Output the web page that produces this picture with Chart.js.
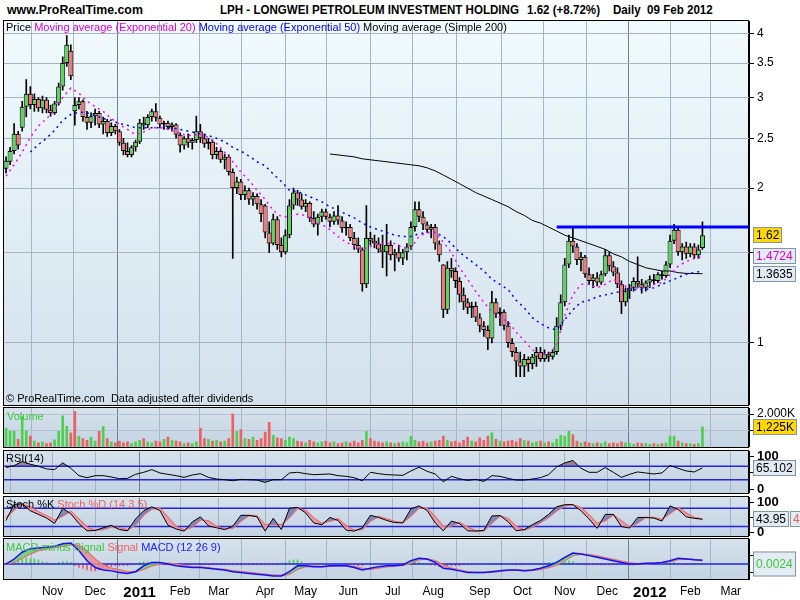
<!DOCTYPE html>
<html lang="en">
<head>
<meta charset="UTF-8">
<title>LPH - Longwei Petroleum Investment Holding</title>
<script src="https://cdn.jsdelivr.net/npm/chart.js@4.4.1/dist/chart.umd.min.js"></script>
<style>
  body { margin: 0; background: #fff; font-family: "Liberation Sans", Arial, sans-serif; }
  #page { position: relative; width: 800px; height: 600px; overflow: hidden; }
  .frame { position: absolute; left: 3px; width: 744px; border: 1px solid #000; }
  canvas { position: absolute; left: 0; }
  .txt { position: absolute; font-size: 11px; line-height: 12px; white-space: pre; z-index: 5; }
  .head { position: absolute; top: 2px; font-weight: bold; font-size: 13px; white-space: pre; transform-origin: left top; transform: scaleX(0.89); }
</style>
</head>
<body>
<div id="page">
  <div class="head" style="left:7px;transform:scaleX(0.95)">www.ProRealTime.com</div>
  <div class="head" style="left:220px">LPH - LONGWEI PETROLEUM INVESTMENT HOLDING</div>
  <div class="head" style="left:527px">1.62 (+8.72%)</div>
  <div class="head" style="left:613px">Daily  09 Feb 2012</div>

  <div class="txt" style="left:6px;top:21px">Price <span style="color:#e000e0">Moving average (Exponential 20)</span> <span style="color:#0000ff">Moving average (Exponential 50)</span> Moving average (Simple 200)</div>
  <div class="txt" style="left:6px;top:392px">© ProRealTime.com  Data adjusted after dividends</div>
  <div class="txt" style="left:7px;top:410px;color:#3cc83c">Volume</div>
  <div class="txt" style="left:6px;top:452px">RSI(14)</div>
  <div class="txt" style="left:6px;top:498px">Stoch %K <span style="color:#f06060">Stoch %D (14 3 5)</span></div>
  <div class="txt" style="left:6px;top:541px"><span style="color:#3cc83c">MACD minus Signal</span> <span style="color:#f06060">Signal</span> <span style="color:#2020ff">MACD (12 26 9)</span></div>
</div>

<script>
// ---- candles: one per 2 trading days, trading-day index i = -2 + 2k ----
const open = [
  2.18,2.25,2.36,2.55,2.62,2.88,3.05,2.9,2.98,2.86,
  2.97,2.84,2.8,2.92,3.15,3.5,3.7,2.82,2.9,2.95,
  2.75,2.68,2.76,2.8,2.66,2.7,2.56,2.64,2.58,2.45,
  2.36,2.32,2.4,2.46,2.68,2.65,2.75,2.82,2.74,2.66,
  2.68,2.63,2.66,2.54,2.42,2.5,2.45,2.48,2.58,2.5,
  2.44,2.46,2.32,2.36,2.27,2.3,2.15,2.0,2.06,1.94,
  1.98,1.9,1.93,1.86,1.85,1.64,1.56,1.74,1.55,1.5,
  1.62,1.85,1.96,1.9,1.84,1.87,1.75,1.7,1.76,1.8,
  1.76,1.72,1.77,1.73,1.67,1.68,1.6,1.55,1.52,1.3,
  1.6,1.58,1.56,1.52,1.5,1.55,1.48,1.5,1.46,1.5,
  1.54,1.68,1.82,1.76,1.7,1.66,1.68,1.56,1.42,1.16,
  1.4,1.38,1.32,1.24,1.2,1.17,1.18,1.12,1.08,1.06,
  1.02,1.2,1.14,1.15,1.08,1.0,0.96,0.92,0.9,0.93,
  0.91,0.94,0.96,0.93,0.95,0.94,0.96,1.08,1.2,1.42,
  1.58,1.54,1.45,1.47,1.36,1.32,1.34,1.31,1.36,1.48,
  1.41,1.37,1.3,1.2,1.26,1.28,1.32,1.3,1.28,1.31,
  1.33,1.32,1.36,1.35,1.42,1.58,1.66,1.5,1.54,1.49,
  1.54,1.48,1.53
];
const high = [
  2.3,2.4,2.67,2.58,2.95,3.25,3.15,3.05,3.0,3.02,
  3.0,2.9,2.95,3.2,3.6,3.96,3.8,3.0,3.0,2.97,
  2.82,2.8,2.85,2.82,2.75,2.72,2.68,2.66,2.6,2.5,
  2.45,2.42,2.48,2.72,2.75,2.78,2.85,2.92,2.76,2.7,
  2.7,2.68,2.67,2.56,2.52,2.55,2.5,2.76,2.66,2.55,
  2.5,2.48,2.4,2.38,2.33,2.32,2.18,2.1,2.08,2.02,
  2.0,1.96,1.95,1.9,1.86,1.72,1.78,1.76,1.6,1.66,
  1.9,2.0,1.98,1.95,1.9,1.88,1.8,1.78,1.82,1.82,
  1.78,1.8,1.85,1.76,1.72,1.7,1.64,1.6,1.53,1.85,
  1.64,1.62,1.6,1.62,1.7,1.58,1.52,1.55,1.52,1.56,
  1.72,1.88,1.88,1.8,1.72,1.7,1.7,1.58,1.42,1.44,
  1.46,1.4,1.34,1.28,1.22,1.2,1.2,1.14,1.1,1.08,
  1.26,1.22,1.17,1.16,1.1,1.02,0.98,0.96,0.95,0.94,
  0.95,0.98,0.98,0.97,0.96,0.97,1.12,1.24,1.46,1.62,
  1.68,1.56,1.5,1.48,1.4,1.36,1.37,1.38,1.52,1.5,
  1.44,1.4,1.32,1.28,1.3,1.34,1.47,1.33,1.32,1.35,
  1.36,1.37,1.38,1.44,1.62,1.7,1.68,1.56,1.57,1.56,
  1.56,1.55,1.72
];
const low = [
  2.14,2.22,2.33,2.38,2.58,2.75,2.85,2.82,2.82,2.8,
  2.8,2.76,2.78,2.9,3.1,3.45,3.25,2.65,2.85,2.7,
  2.6,2.62,2.65,2.62,2.55,2.52,2.53,2.55,2.42,2.32,
  2.3,2.3,2.36,2.44,2.6,2.62,2.7,2.7,2.62,2.6,
  2.6,2.58,2.5,2.35,2.38,2.4,2.38,2.45,2.45,2.4,
  2.38,2.28,2.28,2.24,2.18,2.12,1.46,1.95,1.9,1.9,
  1.86,1.85,1.82,1.72,1.6,1.5,1.55,1.52,1.47,1.49,
  1.6,1.82,1.85,1.82,1.8,1.72,1.68,1.62,1.72,1.74,
  1.68,1.7,1.7,1.64,1.62,1.58,1.52,1.5,1.26,1.28,
  1.55,1.53,1.5,1.4,1.35,1.45,1.38,1.44,1.42,1.45,
  1.52,1.65,1.72,1.66,1.64,1.6,1.52,1.44,1.12,1.14,
  1.34,1.28,1.2,1.16,1.14,1.12,1.1,1.05,1.03,0.97,
  1.0,1.12,1.08,1.06,0.98,0.94,0.86,0.86,0.86,0.88,
  0.89,0.9,0.92,0.92,0.92,0.93,0.95,1.06,1.18,1.4,
  1.5,1.42,1.38,1.34,1.3,1.28,1.29,1.3,1.35,1.38,
  1.35,1.28,1.14,1.18,1.22,1.26,1.28,1.25,1.26,1.28,
  1.3,1.31,1.33,1.34,1.4,1.56,1.48,1.45,1.46,1.47,
  1.46,1.46,1.52
];
const close = [
  2.26,2.36,2.55,2.42,2.88,3.05,2.9,2.98,2.86,2.97,
  2.84,2.8,2.92,3.15,3.5,3.8,3.3,2.9,2.95,2.75,
  2.68,2.76,2.8,2.66,2.7,2.56,2.64,2.58,2.45,2.36,
  2.32,2.4,2.46,2.68,2.65,2.75,2.82,2.74,2.66,2.68,
  2.63,2.66,2.54,2.42,2.5,2.45,2.48,2.58,2.5,2.44,
  2.46,2.32,2.36,2.27,2.3,2.15,2.0,2.06,1.94,1.98,
  1.9,1.93,1.86,1.78,1.64,1.56,1.74,1.55,1.5,1.62,
  1.85,1.96,1.9,1.84,1.87,1.75,1.7,1.76,1.8,1.76,
  1.72,1.77,1.73,1.67,1.68,1.6,1.55,1.52,1.3,1.6,
  1.58,1.56,1.52,1.5,1.55,1.48,1.5,1.46,1.5,1.54,
  1.68,1.82,1.76,1.7,1.66,1.68,1.56,1.48,1.16,1.4,
  1.38,1.32,1.24,1.2,1.17,1.18,1.12,1.08,1.06,1.02,
  1.2,1.14,1.15,1.08,1.0,0.96,0.92,0.9,0.93,0.91,
  0.94,0.96,0.93,0.95,0.94,0.96,1.08,1.2,1.42,1.58,
  1.54,1.45,1.47,1.36,1.32,1.34,1.31,1.36,1.48,1.41,
  1.37,1.3,1.2,1.26,1.28,1.32,1.3,1.28,1.31,1.33,
  1.32,1.36,1.35,1.42,1.58,1.66,1.5,1.54,1.49,1.54,
  1.48,1.52,1.62
];
const volumeK = [
  1150,950,950,450,1850,1000,650,350,250,300,
  200,250,420,950,1900,1250,850,2150,650,500,
  400,600,350,950,1250,500,300,250,350,250,
  300,200,300,400,500,300,250,350,300,450,
  600,400,350,300,200,250,200,300,1150,500,
  450,350,400,300,350,500,2000,950,1050,500,
  450,600,400,500,900,1500,700,550,500,400,
  600,500,350,300,250,400,300,250,300,350,
  250,300,200,250,300,250,350,250,400,950,
  500,350,300,250,300,250,200,250,300,250,
  650,400,300,350,250,300,350,400,650,400,
  300,350,250,400,600,350,300,550,400,650,
  850,450,350,300,350,400,300,500,400,350,
  250,300,350,250,300,250,450,700,650,950,
  750,350,250,300,250,200,250,200,300,200,
  250,200,300,250,200,150,250,200,200,150,
  200,150,200,250,650,650,350,250,200,200,
  150,200,1225
];
const macdHist = [
  0,0.03,0.05,0.07,0.08,0.07,0.06,0.06,0.05,0.03,
  0.02,0.01,0.01,0.02,0.03,0.03,0.02,-0.02,-0.04,-0.05,
  -0.07,-0.08,-0.08,-0.07,-0.06,-0.04,-0.03,-0.02,-0.02,-0.02,
  -0.02,-0.01,0,0.02,0.03,0.03,0.02,0.01,0,-0.01,
  -0.01,-0.01,-0.01,-0.01,0,-0.01,0,0,-0.01,-0.01,
  -0.01,-0.01,-0.01,-0.01,-0.01,-0.01,-0.01,-0.01,-0.01,-0.01,
  -0.01,-0.01,-0.01,-0.01,-0.01,-0.01,-0.01,-0.01,0,0.02,
  0.04,0.05,0.05,0.03,0.01,0,0,-0.01,0,0,
  0,0,0,0,-0.01,-0.01,-0.01,-0.02,-0.02,0,
  0.01,0.01,0.01,0,0,0,0,0.01,0.01,0.01,
  0.02,0.02,0.02,0.01,0,-0.01,-0.02,-0.03,-0.03,-0.03,
  -0.02,-0.02,-0.02,-0.01,-0.01,-0.01,0,0,0,0.01,
  0.01,0.01,0.01,0,0,0,-0.01,-0.01,0,0,
  0.01,0.01,0.01,0.01,0.02,0.02,0.03,0.04,0.05,0.04,
  0.03,0.01,0,-0.01,-0.01,-0.01,-0.01,-0.01,-0.01,-0.01,
  -0.01,-0.01,-0.01,-0.01,-0.01,-0.01,0,0,0,0,
  0.01,0.01,0.01,0.02,0.02,0.02,0.01,0,-0.01,0,
  0,0,0.0024
];

// ---- indicators: one sample per 4 trading days, i = -2 + 4m ----
const ema20 = [
  2.11,2.22,2.35,2.51,2.64,2.73,2.83,3.0,3.13,3.06,
  2.95,2.88,2.82,2.73,2.66,2.6,2.54,2.57,2.62,2.62,
  2.61,2.57,2.54,2.53,2.55,2.51,2.44,2.35,2.25,2.15,
  2.07,1.98,1.9,1.81,1.76,1.76,1.78,1.77,1.73,1.7,
  1.66,1.61,1.57,1.54,1.52,1.54,1.56,1.56,1.56,1.53,
  1.53,1.61,1.64,1.64,1.57,1.5,1.4,1.33,1.26,1.2,
  1.15,1.12,1.1,1.05,1.01,0.97,0.95,0.95,0.99,1.13,
  1.24,1.3,1.3,1.28,1.3,1.33,1.3,1.28,1.28,1.28,
  1.3,1.31,1.36,1.41,1.44,1.46,1.4724
];
const ema50 = [
  null,null,null,2.35,2.43,2.5,2.59,2.71,2.78,2.81,
  2.8,2.77,2.73,2.71,2.67,2.65,2.62,2.62,2.62,2.62,
  2.62,2.61,2.59,2.57,2.55,2.53,2.5,2.46,2.4,2.36,
  2.31,2.25,2.21,2.13,2.06,1.98,1.97,1.94,1.91,1.88,
  1.84,1.81,1.78,1.75,1.71,1.68,1.66,1.64,1.62,1.61,
  1.61,1.63,1.64,1.64,1.61,1.56,1.5,1.46,1.42,1.38,
  1.33,1.3,1.27,1.21,1.17,1.12,1.09,1.07,1.06,1.11,
  1.16,1.2,1.21,1.23,1.24,1.25,1.26,1.27,1.27,1.27,
  1.28,1.3,1.32,1.34,1.36,1.37,1.38
];
const sma200From = 40;   // first sample with a 200-day average
const sma200 = [
  2.33,2.32,2.31,2.3,2.28,2.27,2.26,2.25,2.24,2.23,
  2.22,2.21,2.19,2.16,2.12,2.08,2.04,2.0,1.96,1.93,
  1.9,1.87,1.84,1.8,1.77,1.73,1.71,1.68,1.65,1.62,
  1.6,1.58,1.56,1.54,1.52,1.49,1.47,1.44,1.42,1.4,
  1.39,1.38,1.38,1.37,1.365,1.364,1.3635
];
const rsi14 = [
  66,72,84,76,70,62,60,80,64,42,
  36,42,42,38,33,34,46,52,60,50,
  46,42,37,44,48,37,32,30,27,31,
  30,29,22,30,30,50,52,48,45,46,
  47,42,40,36,27,52,48,45,44,43,
  56,67,55,47,24,40,33,28,31,25,
  42,40,34,29,29,32,36,45,68,80,
  87,64,52,52,66,52,37,46,53,50,
  47,50,72,64,56,53,65.102
];
const stochK = [
  40,93,95,72,60,48,30,80,62,30,
  6,7,16,24,10,6,45,72,85,73,
  24,12,5,35,52,22,16,10,21,57,
  57,52,5,47,10,80,83,65,32,26,
  50,40,8,5,16,57,50,40,33,32,
  78,88,73,32,6,38,30,6,5,7,
  55,56,36,6,10,26,40,60,85,92,
  92,72,45,14,60,60,20,15,50,50,
  48,38,88,76,52,47,43.95
];
const stochD = [
  50,75,92,85,68,56,40,55,70,45,
  18,8,10,18,16,9,25,58,78,80,
  50,20,9,18,42,38,20,13,14,38,
  56,55,25,28,25,50,80,73,48,30,
  38,45,22,8,10,38,53,45,37,33,
  55,82,80,52,20,22,33,18,6,6,
  32,55,46,20,8,18,33,50,72,88,
  92,82,58,30,40,58,38,18,32,50,
  50,43,63,82,64,50,45.2
];
const macdLine = [
  0,0.06,0.14,0.18,0.19,0.2,0.21,0.24,0.25,0.16,
  0.04,-0.04,-0.07,-0.08,-0.1,-0.11,-0.09,-0.02,0.02,0.02,
  0,-0.02,-0.03,-0.04,-0.04,-0.05,-0.06,-0.07,-0.09,-0.1,
  -0.11,-0.12,-0.13,-0.14,-0.14,-0.09,-0.02,-0.02,-0.03,-0.03,
  -0.02,-0.02,-0.02,-0.04,-0.07,-0.05,-0.03,-0.02,-0.02,-0.01,
  0.04,0.07,0.06,0.02,-0.05,-0.06,-0.08,-0.1,-0.1,-0.1,
  -0.09,-0.08,-0.07,-0.07,-0.08,-0.07,-0.05,-0.02,0.02,0.08,
  0.13,0.12,0.1,0.08,0.06,0.04,0.02,0,0,0.01,
  0.01,0.02,0.04,0.07,0.06,0.05,0.045
];
const macdSignal = [
  0,0.02,0.07,0.12,0.16,0.18,0.2,0.21,0.23,0.22,
  0.15,0.06,-0.01,-0.05,-0.07,-0.09,-0.09,-0.06,-0.02,0,
  0.01,0,-0.02,-0.03,-0.035,-0.045,-0.055,-0.065,-0.08,-0.09,
  -0.1,-0.11,-0.12,-0.13,-0.135,-0.12,-0.06,-0.03,-0.025,-0.03,
  -0.025,-0.02,-0.02,-0.03,-0.05,-0.06,-0.045,-0.03,-0.02,-0.015,
  0.01,0.05,0.06,0.04,-0.01,-0.05,-0.07,-0.09,-0.1,-0.1,
  -0.095,-0.085,-0.075,-0.07,-0.075,-0.075,-0.06,-0.04,-0.01,0.04,
  0.1,0.12,0.11,0.095,0.075,0.055,0.035,0.015,0.005,0.005,
  0.01,0.015,0.03,0.055,0.06,0.055,0.043
];

// ---- axes ----
const monthStarts = [0,21,42,64,84,103,126,146,167,189,209,232,253,274,295,316,336,356];
const monthLabels = ['','Nov','Dec','2011','Feb','Mar','Apr','May','Jun','Jul','Aug','Sep','Oct','Nov','Dec','2012','Feb','Mar'];
const priceTicks = [1,1.5,2,2.5,3,3.5,4];
const priceTickLabels = ['1','','2','2.5','3','3.5','4'];
const resistance = 1.68, resistFrom = 270;
const rsiLevels = [30, 70], stochLevels = [20, 80];

const X_MIN = -3, X_MAX = 365;
const candleX = k => -2 + 2 * k;
const sampleX = m => -2 + 4 * m;
const pts = (arr, fx, from = 0) => arr.map((v, j) => ({ x: fx(j + from), y: v }));
const hline = v => [{ x: X_MIN, y: v }, { x: X_MAX, y: v }];

Chart.defaults.font.family = '"Liberation Sans", Arial, sans-serif';
Chart.defaults.font.size = 12;
Chart.defaults.color = '#000';

const page = document.getElementById('page');
const GRID = '#a5b4c8', GRID_YEAR = '#6f7f92';

function panel(top, bottom, bg, extraBottom) {
  const f = document.createElement('div');
  f.className = 'frame';
  f.style.top = (top - 1) + 'px';
  f.style.height = (bottom - top) + 'px';
  f.style.background = bg;
  page.appendChild(f);
  const c = document.createElement('canvas');
  const h = bottom - top + 10 + (extraBottom || 10);
  c.width = 800; c.height = h;
  c.style.top = (top - 10) + 'px';
  page.appendChild(c);
  return c;
}

function xAxis(labels) {
  return {
    type: 'linear', min: X_MIN, max: X_MAX, offset: false,
    afterBuildTicks: s => { s.ticks = monthStarts.map(v => ({ value: v })); },
    afterFit: s => { s.height = labels ? 22 : 0; },
    grid: { color: c => /^20/.test(monthLabels[c.index]) ? GRID_YEAR : GRID, drawTicks: false },
    border: { display: false },
    ticks: {
      display: labels, autoSkip: false, maxRotation: 0, padding: 5,
      callback: (v, i) => monthLabels[i],
      font: c => /^20/.test(monthLabels[c.index]) ? { size: 15, weight: 'bold' } : { size: 12 }
    }
  };
}

function yAxis(extra) {
  return Object.assign({
    position: 'right',
    afterFit: s => { s.width = 51; },
    border: { display: true, color: '#000' },
    grid: { drawOnChartArea: false, tickLength: 5, tickColor: '#000' },
    ticks: { padding: 3, autoSkip: false }
  }, extra);
}

// value label on the right axis, centred on the value's pixel
function drawBox(chart, value, text, fill, color, dx, h) {
  const ctx = chart.ctx, y = Math.round(chart.scales.y.getPixelForValue(value));
  const bh = h || 16;
  ctx.save();
  ctx.font = '12px "Liberation Sans", Arial, sans-serif';
  const w = Math.round(ctx.measureText(text).width) + 6, x = 753 + (dx || 0);
  ctx.fillStyle = fill;
  ctx.fillRect(x, y - bh / 2, w, bh);
  ctx.strokeStyle = '#8393a8';
  ctx.strokeRect(x + 0.5, y - bh / 2 + 0.5, w - 1, bh - 1);
  ctx.fillStyle = color;
  ctx.textBaseline = 'middle';
  ctx.fillText(text, x + 3, y + 1);
  ctx.restore();
}

const base = { responsive: false, animation: false, events: [],
  plugins: { legend: { display: false }, tooltip: { enabled: false } } };
const line = (data, color, width, dash, order) => ({ type: 'line', data, borderColor: color,
  borderWidth: width, borderDash: dash || [], pointRadius: 0, fill: false, order: order || 0 });

const last = a => a[a.length - 1];
const upColor = '#5fd35f', downColor = '#f07878';

// ---- price panel ----
new Chart(panel(21, 405, 'linear-gradient(#f1fbfd, #d3e1ec)'), {
  type: 'bar',
  data: { datasets: [
    { data: close.map((c, k) => ({ x: candleX(k), y: [low[k], high[k]] })), backgroundColor: '#000',
      barThickness: 1, grouped: false, order: 6 },
    { data: close.map((c, k) => ({ x: candleX(k), y: [open[k], c] })),
      backgroundColor: close.map((c, k) => c >= open[k] ? upColor : downColor),
      borderColor: '#000', borderWidth: 1, borderSkipped: false, inflateAmount: 0,
      barThickness: 5, grouped: false, order: 5 },
    line(pts(sma200, sampleX, sma200From), '#000', 1, null, 3),
    line(pts(ema50, sampleX), '#0000ff', 1.5, [2, 4], 2),
    line(pts(ema20, sampleX), '#ff00ff', 1.5, [2, 4], 1),
    line([{ x: resistFrom, y: resistance }, { x: X_MAX, y: resistance }], '#0000ff', 3, null, 0)
  ] },
  options: Object.assign({}, base, {
    layout: { padding: { top: 10, bottom: 10, left: 4, right: 0 } },
    scales: {
      x: xAxis(false),
      y: yAxis({ type: 'logarithmic', min: 0.758, max: 4.222,
        afterBuildTicks: s => { s.ticks = priceTicks.map(v => ({ value: v })); },
        grid: { drawOnChartArea: true, color: GRID, tickLength: 5, tickColor: '#000' },
        ticks: { padding: 3, autoSkip: false, callback: (v, i) => priceTickLabels[i] } })
    }
  }),
  plugins: [{ id: 'boxes', afterDraw: c => {
    drawBox(c, last(close), last(close).toFixed(2), '#ffd800', '#000');
    drawBox(c, last(ema20), String(last(ema20)), '#e4ecf3', '#e000e0');
    drawBox(c, last(sma200), String(last(sma200)), '#e4ecf3', '#000');
  } }]
});

const subBg = 'linear-gradient(#d6e2ec, #c3d3e2)';

// ---- volume ----
new Chart(panel(408, 447, subBg), {
  type: 'bar',
  data: { datasets: [{ data: pts(volumeK, candleX),
    backgroundColor: close.map((c, k) => k === 0 || c >= close[k - 1] ? '#4fcf4f' : '#ee6060'),
    barThickness: 2 }] },
  options: Object.assign({}, base, {
    layout: { padding: { top: 10, bottom: 10, left: 4, right: 0 } },
    scales: { x: xAxis(false),
      y: yAxis({ min: 0, max: 2364,
        afterBuildTicks: s => { s.ticks = [1000, 2000].map(v => ({ value: v })); },
        grid: { drawOnChartArea: true, color: '#b4c2d3', tickLength: 5, tickColor: '#000' },
        ticks: { padding: 3, callback: v => (v / 1000).toFixed(3) + 'K' } }) }
  }),
  plugins: [{ id: 'boxes', afterDraw: c => {
    drawBox(c, last(volumeK), last(volumeK).toLocaleString('en-US') + 'K', '#ffd800', '#000');
  } }]
});

// ---- RSI ----
new Chart(panel(451, 493, subBg), {
  type: 'line',
  data: { datasets: [
    line(pts(rsi14, sampleX), '#000', 1, null, 0),
    Object.assign(line(pts(rsi14, sampleX), 'rgba(0,0,0,0)', 0, null, 3),
      { fill: { target: { value: rsiLevels[1] }, above: 'rgba(150,122,134,0.9)', below: 'rgba(0,0,0,0)' } }),
    Object.assign(line(pts(rsi14, sampleX), 'rgba(0,0,0,0)', 0, null, 3),
      { fill: { target: { value: rsiLevels[0] }, above: 'rgba(0,0,0,0)', below: 'rgba(100,190,100,0.9)' } }),
    line(hline(rsiLevels[0]), '#2323e6', 1.5, null, 1),
    line(hline(rsiLevels[1]), '#2323e6', 1.5, null, 1)
  ] },
  options: Object.assign({}, base, {
    layout: { padding: { top: 10, bottom: 10, left: 4, right: 0 } },
    scales: { x: xAxis(false),
      y: yAxis({ min: -7.1, max: 112.9,
        afterBuildTicks: s => { s.ticks = [0, 50, 100].map(v => ({ value: v })); },
        ticks: { padding: 3, font: c => c.index === 1 ? { size: 12 } : { size: 13, weight: 'bold' } } }) }
  }),
  plugins: [{ id: 'boxes', afterDraw: c => {
    drawBox(c, last(rsi14), String(last(rsi14)), '#e4ecf3', '#000');
  } }]
});

// ---- Stochastic ----
new Chart(panel(497, 536, subBg), {
  type: 'line',
  data: { datasets: [
    line(pts(stochD, sampleX), '#f06868', 1.5, null, 1),
    Object.assign(line(pts(stochK, sampleX), '#000', 1, null, 0),
      { fill: { target: 0, above: 'rgba(112,122,180,0.85)', below: 'rgba(236,150,160,0.85)' } }),
    line(hline(stochLevels[0]), '#2323e6', 1.5, null, 2),
    line(hline(stochLevels[1]), '#2323e6', 1.5, null, 2)
  ] },
  options: Object.assign({}, base, {
    layout: { padding: { top: 10, bottom: 10, left: 4, right: 0 } },
    scales: { x: xAxis(false),
      y: yAxis({ min: -8.5, max: 114.6,
        afterBuildTicks: s => { s.ticks = [0, 50, 100].map(v => ({ value: v })); },
        ticks: { padding: 3, font: c => c.index === 1 ? { size: 12 } : { size: 13, weight: 'bold' } } }) }
  }),
  plugins: [{ id: 'boxes', afterDraw: c => {
    drawBox(c, last(stochD), last(stochD).toFixed(2), '#e4ecf3', '#f06060', 37);
    drawBox(c, last(stochK), String(last(stochK)), '#e4ecf3', '#000');
  } }]
});

// ---- MACD ----
new Chart(panel(539, 579, subBg, 22), {
  type: 'bar',
  data: { datasets: [
    { data: pts(macdHist, candleX), backgroundColor: macdHist.map(v => v >= 0 ? '#4fcf4f' : '#ee5a5a'),
      barThickness: 1, grouped: false, order: 5 },
    line(pts(macdSignal, sampleX), '#f06060', 1.5, null, 2),
    Object.assign(line(pts(macdLine, sampleX), '#1010ff', 1.5, null, 1),
      { fill: { target: 1, above: 'rgba(110,205,110,0.85)', below: 'rgba(232,140,150,0.85)' } }),
    line(hline(0), '#2323e6', 1.5, null, 3)
  ] },
  options: Object.assign({}, base, {
    layout: { padding: { top: 10, bottom: 0, left: 4, right: 0 } },
    scales: { x: xAxis(true),
      y: yAxis({ min: -0.176, max: 0.294,
        afterBuildTicks: s => { s.ticks = [-0.1, 0, 0.1, 0.2].map(v => ({ value: v })); },
        ticks: { padding: 3, callback: v => v === 0.2 ? '0.2' : '' } }) }
  }),
  plugins: [{ id: 'boxes', afterDraw: c => {
    drawBox(c, last(macdHist), String(last(macdHist)), '#e4ecf3', '#3cc83c', 0, 25);
  } }]
});
</script>
</body>
</html>
